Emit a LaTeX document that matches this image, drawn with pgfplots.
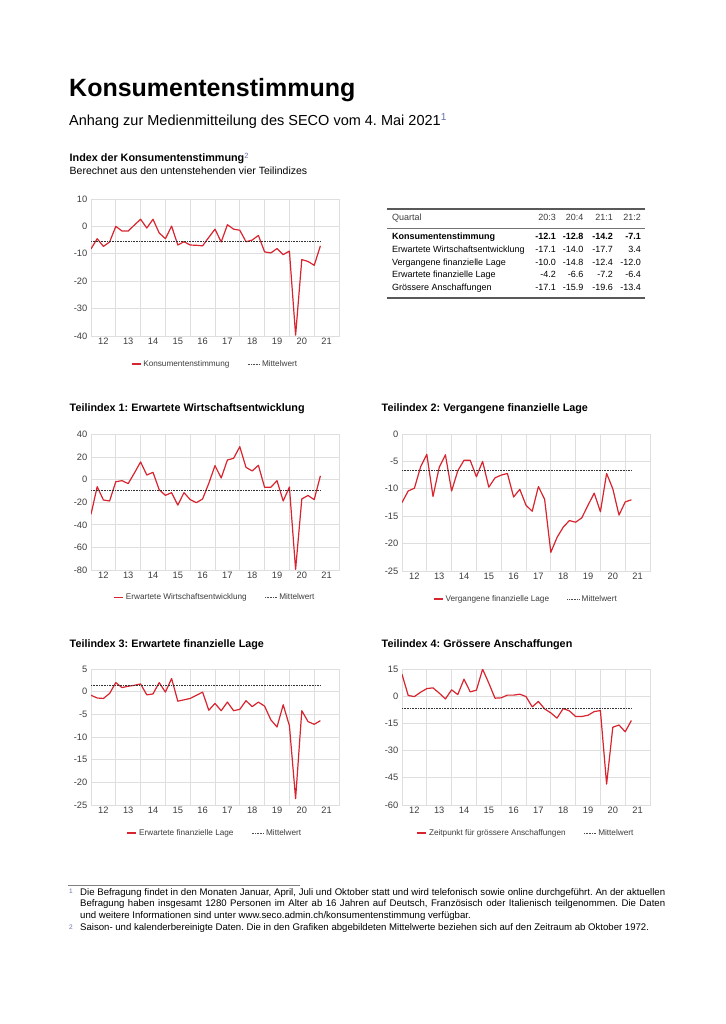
\documentclass[border=0pt]{standalone}
\usepackage{pgfplots}
\pgfplotsset{compat=1.18}
\usepackage{pgfplotstable}
\usepackage{fontspec}
\setmainfont{Liberation Sans}
\frenchspacing

\definecolor{secored}{RGB}{216,36,46}
\definecolor{gridgray}{RGB}{222,222,222}
\definecolor{notegray}{RGB}{100,110,170}
\definecolor{txt}{RGB}{60,60,60}

% quarters since 2012:1 (0) up to 2021:2 (37)
\pgfplotstableread{
x y
0 -8.2
1 -4.5
2 -7.3
3 -5.7
4 0.0
5 -1.7
6 -1.7
7 0.5
8 2.6
9 -0.6
10 2.6
11 -2.4
12 -4.5
13 0.1
14 -6.8
15 -5.6
16 -6.8
17 -6.9
18 -7.1
19 -4.0
20 -1.0
21 -5.7
22 0.6
23 -1.0
24 -1.4
25 -5.6
26 -5.0
27 -3.3
28 -9.3
29 -9.7
30 -8.1
31 -10.3
32 -9.0
33 -39.7
34 -12.1
35 -12.8
36 -14.2
37 -7.1
}\konsum

\pgfplotstableread{
x y
0 -30.7
1 -6.2
2 -18.0
3 -18.9
4 -1.8
5 -0.9
6 -3.5
7 5.9
8 15.7
9 4.1
10 6.5
11 -8.9
12 -13.9
13 -11.5
14 -22.5
15 -11.5
16 -17.7
17 -20.4
18 -17.1
19 -3.2
20 12.4
21 1.5
22 17.4
23 18.9
24 29.2
25 10.9
26 7.7
27 12.7
28 -6.8
29 -6.8
30 -0.9
31 -18.9
32 -6.5
33 -79.5
34 -17.1
35 -14.0
36 -17.7
37 3.4
}\wirtschaft

\pgfplotstableread{
x y
0 -12.5
1 -10.4
2 -9.9
3 -6.0
4 -3.7
5 -11.4
6 -6.1
7 -3.8
8 -10.4
9 -6.7
10 -4.8
11 -4.8
12 -7.8
13 -5.0
14 -9.7
15 -8.0
16 -7.5
17 -7.2
18 -11.5
19 -10.1
20 -13.0
21 -14.1
22 -9.6
23 -11.9
24 -21.6
25 -18.9
26 -17.0
27 -15.8
28 -16.1
29 -15.3
30 -13.0
31 -10.8
32 -14.2
33 -7.2
34 -10.0
35 -14.8
36 -12.4
37 -12.0
}\vergangen

\pgfplotstableread{
x y
0 -0.8
1 -1.4
2 -1.5
3 -0.4
4 2.0
5 0.9
6 1.2
7 1.4
8 1.7
9 -0.7
10 -0.5
11 2.0
12 -0.1
13 2.9
14 -2.1
15 -1.8
16 -1.5
17 -0.8
18 -0.1
19 -4.1
20 -2.6
21 -4.2
22 -2.3
23 -4.2
24 -3.9
25 -2.0
26 -3.3
27 -2.3
28 -3.2
29 -6.2
30 -7.8
31 -2.9
32 -7.5
33 -23.6
34 -4.2
35 -6.6
36 -7.2
37 -6.4
}\erwartet

\pgfplotstableread{
x y
0 12.1
1 0.4
2 -0.2
3 2.2
4 4.2
5 4.6
6 1.7
7 -1.5
8 3.5
9 0.9
10 9.4
11 2.4
12 3.3
13 14.9
14 7.2
15 -1.1
16 -0.9
17 0.6
18 0.6
19 1.1
20 -0.2
21 -5.9
22 -2.9
23 -7.0
24 -9.2
25 -12.1
26 -6.8
27 -8.1
28 -11.2
29 -11.2
30 -10.5
31 -8.5
32 -7.9
33 -48.5
34 -17.1
35 -15.9
36 -19.6
37 -13.4
}\anschaff

\pgfplotsset{
  seco/.style={
    scale only axis, width=248pt, anchor=south west,
    xmin=0, xmax=40,
    xtick={2,6,...,38}, xticklabels={12,13,14,15,16,17,18,19,20,21},
    minor xtick={0,4,...,40},
    xminorgrids=true, ymajorgrids=true, xmajorgrids=false,
    major tick length=0pt, minor tick length=0pt,
    grid style={draw=gridgray, line width=0.8pt},
    minor grid style={draw=gridgray, line width=0.8pt},
    axis line style={draw=gridgray, line width=0.8pt},
    tick label style={font=\fontsize{9.3}{11}\selectfont, text=txt},
    xticklabel style={yshift=-1.5pt},
    yticklabel style={xshift=-3.5pt},
    /pgf/number format/assume math mode=true,
    legend style={draw=none, fill=none, at={(0.5,-0.205)}, anchor=center,
      font=\fontsize{8.2}{10}\selectfont, text=txt,
      /tikz/every even column/.append style={column sep=16pt}},
    legend columns=2, legend cell align=left,
  },
  redline/.style={secored, line width=1.2pt, line join=round,
    legend image code/.code={\draw[secored, line width=1.4pt] (0pt,0pt) -- (9pt,0pt);}},
  meanline/.style={black!80, densely dotted, line width=0.6pt,
    legend image code/.code={\draw[black!70, densely dotted, line width=0.6pt] (0pt,0pt) -- (12pt,0pt);}},
}

\begin{document}
\begin{tikzpicture}[inner sep=0pt]
\path[use as bounding box] (0pt,0pt) rectangle (725pt,1024pt);

% heading
\node[anchor=base west, font=\fontsize{25}{30}\selectfont\bfseries] at (69pt,927pt) {Konsumentenstimmung};
\node[anchor=base west, font=\fontsize{14.5}{17}\selectfont] at (69pt,898pt)
  {Anhang zur Medienmitteilung des SECO vom 4. Mai 2021\textsuperscript{\color{notegray}1}};
\node[anchor=base west, font=\fontsize{10.8}{13}\selectfont\bfseries] at (69.5pt,862pt)
  {Index der Konsumentenstimmung\textsuperscript{\color{notegray}\mdseries 2}};
\node[anchor=base west, font=\fontsize{10.5}{13}\selectfont] at (69.5pt,849pt)
  {Berechnet aus den untenstehenden vier Teilindizes};

% main index
\begin{axis}[seco, at={(91pt,688pt)}, height=137pt,
  ymin=-40, ymax=10, ytick={-40,-30,...,10}]
\addplot[redline] table[x=x, y=y] {\konsum};
\addlegendentry{Konsumentenstimmung}
\addplot[meanline] coordinates {(0,-5.4) (37,-5.4)};
\addlegendentry{Mittelwert}
\end{axis}

% table
\begin{scope}[font=\fontsize{9}{11}\selectfont]
\draw[black!65, line width=1.4pt] (387pt,815pt) -- (645pt,815pt);
\draw[black!55, line width=0.6pt] (387pt,796pt) -- (645pt,796pt);
\draw[black!65, line width=1.4pt] (387pt,726pt) -- (645pt,726pt);
\node[anchor=base west, text=txt] at (392pt,803pt) {Quartal};
\node[anchor=base east, text=txt] at (556pt,803pt) {20:3};
\node[anchor=base east, text=txt] at (583.5pt,803pt) {20:4};
\node[anchor=base east, text=txt] at (613pt,803pt) {21:1};
\node[anchor=base east, text=txt] at (641pt,803pt) {21:2};
\foreach \lab/\a/\b/\c/\d/\yy in {
  {Erwartete Wirtschaftsentwicklung}/-17.1/-14.0/-17.7/3.4/771.5,
  {Vergangene finanzielle Lage}/-10.0/-14.8/-12.4/-12.0/758.7,
  {Erwartete finanzielle Lage}/-4.2/-6.6/-7.2/-6.4/746,
  {Grössere Anschaffungen}/-17.1/-15.9/-19.6/-13.4/733.3}{
  \node[anchor=base west] at (392pt,\yy pt) {\lab};
  \node[anchor=base east] at (556pt,\yy pt) {\a};
  \node[anchor=base east] at (583.5pt,\yy pt) {\b};
  \node[anchor=base east] at (613pt,\yy pt) {\c};
  \node[anchor=base east] at (641pt,\yy pt) {\d};
}
\node[anchor=base west, font=\fontsize{9}{11}\selectfont\bfseries] at (392pt,784pt) {Konsumentenstimmung};
\node[anchor=base east, font=\fontsize{9}{11}\selectfont\bfseries] at (556pt,784pt) {-12.1};
\node[anchor=base east, font=\fontsize{9}{11}\selectfont\bfseries] at (583.5pt,784pt) {-12.8};
\node[anchor=base east, font=\fontsize{9}{11}\selectfont\bfseries] at (613pt,784pt) {-14.2};
\node[anchor=base east, font=\fontsize{9}{11}\selectfont\bfseries] at (641pt,784pt) {-7.1};
\end{scope}

% Teilindex 1
\node[anchor=base west, font=\fontsize{10.8}{13}\selectfont\bfseries] at (69.5pt,612pt)
  {Teilindex 1: Erwartete Wirtschaftsentwicklung};
\begin{axis}[seco, at={(91pt,454pt)}, height=135.5pt,
  ymin=-80, ymax=40, ytick={-80,-60,...,40}]
\addplot[redline] table[x=x, y=y] {\wirtschaft};
\addlegendentry{Erwartete Wirtschaftsentwicklung}
\addplot[meanline] coordinates {(0,-9.7) (37,-9.7)};
\addlegendentry{Mittelwert}
\end{axis}

% Teilindex 2
\node[anchor=base west, font=\fontsize{10.8}{13}\selectfont\bfseries] at (381.5pt,612pt)
  {Teilindex 2: Vergangene finanzielle Lage};
\begin{axis}[seco, at={(402pt,453pt)}, height=137pt,
  ymin=-25, ymax=0, ytick={-25,-20,...,0}]
\addplot[redline] table[x=x, y=y] {\vergangen};
\addlegendentry{Vergangene finanzielle Lage}
\addplot[meanline] coordinates {(0,-6.65) (37,-6.65)};
\addlegendentry{Mittelwert}
\end{axis}

% Teilindex 3
\node[anchor=base west, font=\fontsize{10.8}{13}\selectfont\bfseries] at (69.5pt,376pt)
  {Teilindex 3: Erwartete finanzielle Lage};
\begin{axis}[seco, at={(91pt,219pt)}, height=136pt,
  ymin=-25, ymax=5, ytick={-25,-20,...,5}]
\addplot[redline] table[x=x, y=y] {\erwartet};
\addlegendentry{Erwartete finanzielle Lage}
\addplot[meanline] coordinates {(0,1.45) (37,1.45)};
\addlegendentry{Mittelwert}
\end{axis}

% Teilindex 4
\node[anchor=base west, font=\fontsize{10.8}{13}\selectfont\bfseries] at (381.5pt,376pt)
  {Teilindex 4: Grössere Anschaffungen};
\begin{axis}[seco, at={(402pt,219pt)}, height=136pt,
  ymin=-60, ymax=15, ytick={-60,-45,...,15}]
\addplot[redline] table[x=x, y=y] {\anschaff};
\addlegendentry{Zeitpunkt für grössere Anschaffungen}
\addplot[meanline] coordinates {(0,-6.6) (37,-6.6)};
\addlegendentry{Mittelwert}
\end{axis}

% footnotes
\draw[black!50, line width=0.7pt] (68pt,139pt) -- (300pt,139pt);
\begin{scope}[font=\fontsize{9.6}{11.8}\selectfont]
\node[anchor=base west, font=\fontsize{6.5}{7}\selectfont, text=notegray] at (69pt,130pt) {1};
\node[anchor=base west, font=\fontsize{6.5}{7}\selectfont, text=notegray] at (69pt,94.5pt) {2};
\node[anchor=north west, text width=585pt, align=justify] at (80pt,136pt)
  {Die Befragung findet in den Monaten Januar, April, Juli und Oktober statt und wird telefonisch sowie online durchgeführt. An der aktuellen\linebreak
   Befragung haben insgesamt 1280 Personen im Alter ab 16 Jahren auf Deutsch, Französisch oder Italienisch teilgenommen. Die Daten\linebreak
   und weitere Informationen sind unter www.seco.admin.ch/konsumentenstimmung verfügbar.\par
   Saison- und kalenderbereinigte Daten. Die in den Grafiken abgebildeten Mittelwerte beziehen sich auf den Zeitraum ab Oktober 1972.};
\end{scope}
\end{tikzpicture}
\end{document}
